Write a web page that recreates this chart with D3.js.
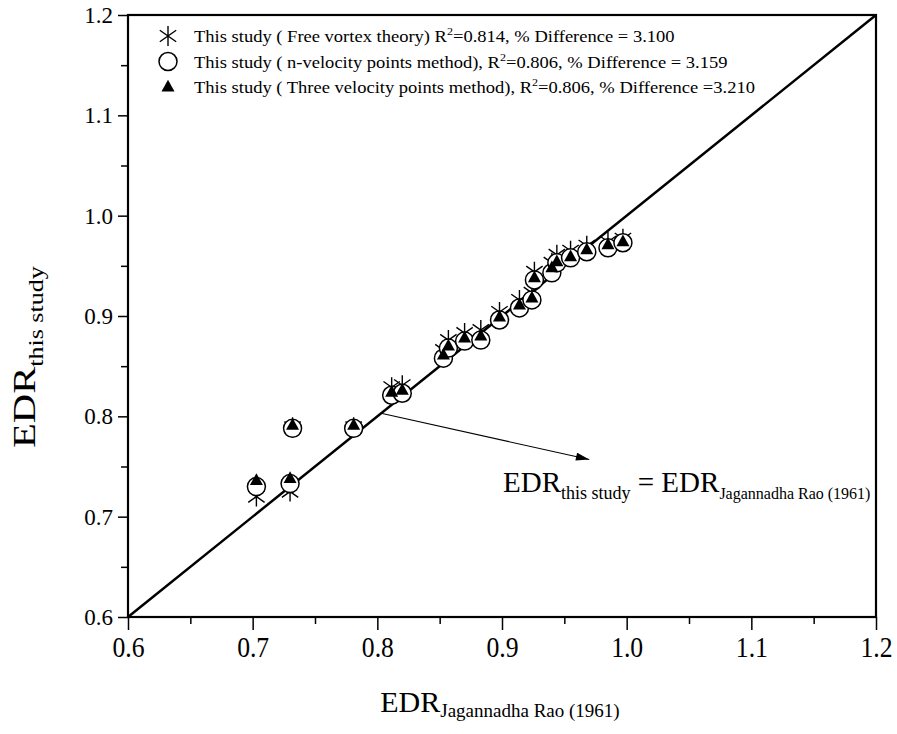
<!DOCTYPE html>
<html>
<head>
<meta charset="utf-8">
<script src="https://cdn.jsdelivr.net/npm/d3@7"></script>
<style>
  html, body { margin: 0; padding: 0; background: #fff; }
  svg { display: block; }
  text { font-family: "Liberation Serif", "Times New Roman", serif; fill: #000; }
</style>
</head>
<body>
<svg id="chart" width="897" height="734"></svg>
<script>
// ---- data ----
const edrRao   = [0.703, 0.730, 0.732, 0.781, 0.8115, 0.820, 0.853, 0.857, 0.870, 0.883, 0.898, 0.914, 0.924, 0.926, 0.940, 0.944, 0.955, 0.968, 0.985, 0.997];
const freeVortex = [0.720, 0.725, 0.789, 0.789, 0.829, 0.831, 0.866, 0.876, 0.883, 0.886, 0.904, 0.916, 0.923, 0.944, 0.953, 0.961, 0.965, 0.970, 0.974, 0.977];
const nVelocity  = [0.730, 0.733, 0.788, 0.788, 0.821, 0.823, 0.858, 0.868, 0.875, 0.876, 0.896, 0.908, 0.916, 0.936, 0.943, 0.953, 0.958, 0.964, 0.968, 0.973];
const threeVelocity = [0.736, 0.738, 0.791, 0.791, 0.824, 0.826, 0.861, 0.870, 0.878, 0.880, 0.899, 0.911, 0.918, 0.938, 0.948, 0.954, 0.959, 0.966, 0.971, 0.974];
const xTicks = [0.6, 0.7, 0.8, 0.9, 1.0, 1.1, 1.2];
const yTicks = [0.6, 0.7, 0.8, 0.9, 1.0, 1.1, 1.2];
const minorTicks = [0.65, 0.75, 0.85, 0.95, 1.05, 1.15];
const legendItems = [
  {sym: "star",     text: "This study ( Free vortex theory) R", sup: "2", rest: "=0.814, % Difference = 3.100"},
  {sym: "circle",   text: "This study ( n-velocity points method), R", sup: "2", rest: "=0.806, % Difference = 3.159"},
  {sym: "triangle", text: "This study ( Three velocity points method), R", sup: "2", rest: "=0.806, % Difference =3.210"}
];
const arrowFrom = [0.803, 0.803];
const arrowTo = [0.970, 0.757];

// ---- layout ----
const svg = d3.select("#chart");
const L = 128, R = 876, T = 15, B = 617;
const x = d3.scaleLinear().domain([0.6, 1.2]).range([L, R]);
const y = d3.scaleLinear().domain([0.6, 1.2]).range([B, T]);
const SERIF = "Liberation Serif";

const defs = svg.append("defs");
defs.append("marker").attr("id", "arrow").attr("viewBox", "0 0 10 6")
  .attr("refX", 10).attr("refY", 3).attr("markerWidth", 15).attr("markerHeight", 8)
  .attr("markerUnits", "userSpaceOnUse").attr("orient", "auto")
  .append("path").attr("d", "M0,0 L10,3 L0,6 Z").attr("fill", "#000");

// axes
const xAxis = d3.axisBottom(x).tickValues(xTicks).tickFormat(d3.format(".1f")).tickSize(13).tickSizeOuter(0);
const xMinor = d3.axisBottom(x).tickValues(minorTicks).tickFormat("").tickSize(7).tickSizeOuter(0);
const yAxis = d3.axisLeft(y).tickValues(yTicks).tickFormat(d3.format(".1f")).tickSize(10).tickSizeOuter(0);
const yMinor = d3.axisLeft(y).tickValues(minorTicks).tickFormat("").tickSize(7).tickSizeOuter(0);

const gx = svg.append("g").attr("transform", `translate(0,${B})`).call(xAxis);
svg.append("g").attr("transform", `translate(0,${B})`).call(xMinor);
const gy = svg.append("g").attr("transform", `translate(${L},0)`).call(yAxis);
svg.append("g").attr("transform", `translate(${L},0)`).call(yMinor);
svg.selectAll(".tick line").attr("stroke", "#000").attr("stroke-width", 1.5);
svg.selectAll(".domain").remove();

gx.selectAll(".tick text")
  .attr("font-size", 29.5).attr("font-family", SERIF)
  .attr("x", 0).attr("y", 0).attr("dy", 0)
  .attr("transform", "translate(0,40) scale(0.87,1)");
gy.selectAll(".tick text")
  .attr("font-size", 23).attr("font-family", SERIF)
  .attr("x", -15).attr("dy", "0.32em");

// frame
svg.append("rect").attr("x", L).attr("y", T).attr("width", R - L).attr("height", B - T)
  .attr("fill", "none").attr("stroke", "#000").attr("stroke-width", 2.2);

// 1:1 line
svg.append("line").attr("x1", x(0.6)).attr("y1", y(0.6)).attr("x2", x(1.2)).attr("y2", y(1.2))
  .attr("stroke", "#000").attr("stroke-width", 2.5);

// symbol helpers
function starPath(r) {
  const a = [90, 35, -35].map(v => v * Math.PI / 180);
  return a.map(t => `M${-r*Math.cos(t)},${r*Math.sin(t)}L${r*Math.cos(t)},${-r*Math.sin(t)}`).join("");
}
function triPath(s) {
  const h = s * 0.9;
  return `M0,${-h*0.62}L${s/2},${h*0.38}L${-s/2},${h*0.38}Z`;
}
function drawSym(g, type, cx, cy) {
  if (type === "star") {
    g.append("path").attr("transform", `translate(${cx},${cy})`).attr("d", starPath(10))
      .attr("stroke", "#000").attr("stroke-width", 1.4).attr("fill", "none");
  } else if (type === "circle") {
    g.append("circle").attr("cx", cx).attr("cy", cy).attr("r", 9)
      .attr("fill", "#fff").attr("stroke", "#000").attr("stroke-width", 1.5);
  } else {
    g.append("path").attr("transform", `translate(${cx},${cy})`).attr("d", triPath(13))
      .attr("fill", "#000");
  }
}

const pts = svg.append("g");
const series = [["star", freeVortex], ["circle", nVelocity], ["triangle", threeVelocity]];
series.forEach(([type, vals]) => {
  const g = pts.append("g");
  edrRao.forEach((xv, i) => drawSym(g, type, x(xv), y(vals[i])));
});

// arrow
svg.append("line").attr("x1", x(arrowFrom[0])).attr("y1", y(arrowFrom[1]))
  .attr("x2", x(arrowTo[0])).attr("y2", y(arrowTo[1]))
  .attr("stroke", "#000").attr("stroke-width", 1.1).attr("marker-end", "url(#arrow)");

// annotation
const ann = svg.append("text").attr("x", 503).attr("y", 492).attr("font-size", 29).attr("font-family", SERIF);
ann.append("tspan").text("EDR");
ann.append("tspan").attr("font-size", 18).attr("dy", 7).text("this study");
ann.append("tspan").attr("dy", -7).text(" = EDR");
ann.append("tspan").attr("font-size", 16).attr("dy", 7).text("Jagannadha Rao (1961)");

// legend
const lg = svg.append("g");
legendItems.forEach((it, i) => {
  const cy = 36 + i * 25.5;
  drawSym(lg, it.sym, 168, cy);
  const t = lg.append("text").attr("transform", `translate(194,${cy + 6}) scale(1.09,1)`)
    .attr("font-size", 17).attr("font-family", SERIF);
  t.append("tspan").text(it.text);
  t.append("tspan").attr("font-size", 11).attr("dy", -7).text(it.sup);
  t.append("tspan").attr("dy", 7).text(it.rest);
});

// axis titles
const xt = svg.append("text").attr("x", 500).attr("y", 712).attr("text-anchor", "middle").attr("font-size", 30).attr("font-family", SERIF);
xt.append("tspan").text("EDR");
xt.append("tspan").attr("font-size", 19).attr("dy", 5).text("Jagannadha Rao (1961)");

const yt = svg.append("text").attr("transform", "translate(35,448) rotate(-90) scale(1.27,1)").attr("font-size", 32).attr("font-family", SERIF);
yt.append("tspan").text("EDR");
yt.append("tspan").attr("font-size", 20.5).attr("dy", 8).text("this study");
</script>
</body>
</html>
